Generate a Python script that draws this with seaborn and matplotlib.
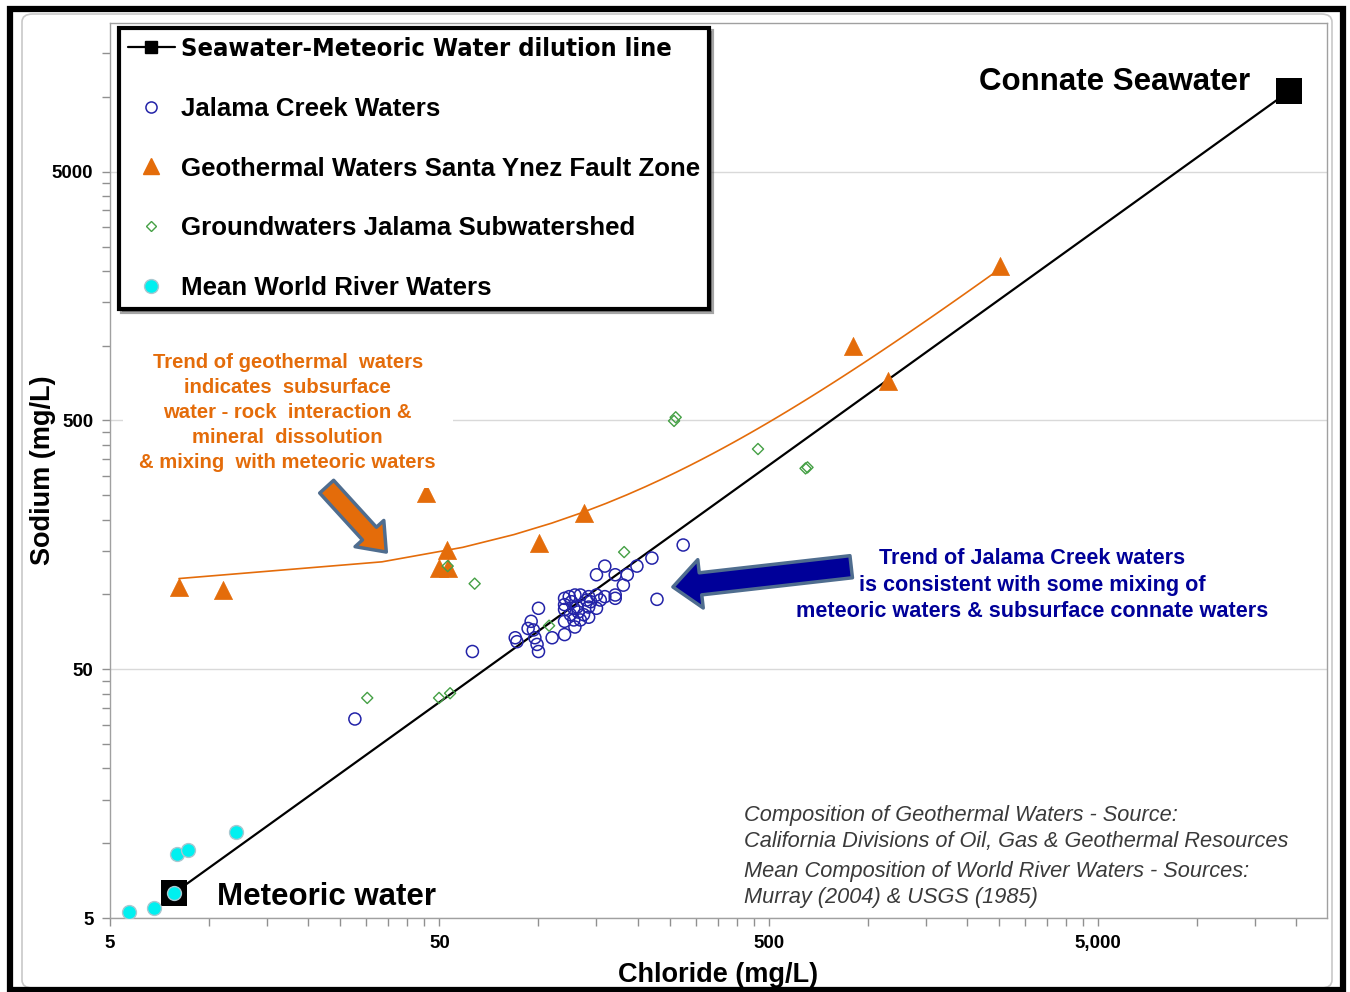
import numpy as np
import matplotlib.pyplot as plt
import seaborn as sns
from matplotlib import font_manager
from matplotlib.lines import Line2D
from matplotlib.patches import Rectangle, FancyBboxPatch
from matplotlib.ticker import FixedLocator, FixedFormatter, LogLocator, NullFormatter

# end members of the dilution line (meteoric water, connate seawater)
dil_cl = [7.8, 19000]
dil_na = [6.3, 10500]

# Jalama Creek waters
creek_cl = [275, 221, 199, 159, 150, 171, 186, 181, 171, 159,
            150, 154, 142, 140, 134, 129, 120, 120, 120, 126,
            131, 132, 137, 142, 142, 150, 134, 128, 129, 120,
            120, 110, 100, 95, 93, 96.5, 97.5, 99, 100, 85,
            86, 229, 171, 63, 27.7, 124, 125, 144, 128]
creek_na = [158, 140, 130, 130, 120, 120, 120, 109, 99.5, 98,
            99.5, 95, 98, 95, 99.5, 99.5, 96.5, 91, 87, 93.5,
            89, 85, 83, 89, 81, 88, 79, 79, 74, 78,
            69, 67, 88, 78, 73, 72, 67, 63, 59, 67,
            64.6, 95.6, 96.5, 59, 31.6, 98, 83, 93.5, 88]

# geothermal waters, Santa Ynez fault zone
geo_cl = [8.1, 11.0, 45.7, 52.7, 49.8, 53.3, 100.6, 137, 902, 1152, 2521]
geo_na = [107, 104, 256, 151, 128, 128, 161, 212, 996, 720, 2088]

# groundwaters, Jalama subwatershed
gw_cl = [30.2, 49.9, 53.9, 53.0, 64.0, 107.7, 182, 258, 261, 464, 647, 656]
gw_na = [38.4, 38.4, 40.1, 130, 110.5, 74.9, 148, 498, 515, 384, 321, 324]

# mean world river waters
river_cl = [5.7, 6.8, 7.8, 8.0, 8.6, 12.1]
river_na = [5.3, 5.5, 6.3, 9.1, 9.4, 11.1]

x_ticks = [5, 50, 500, 5000]
x_labels = ["5", "50", "500", "5,000"]
y_ticks = [5, 50, 500, 5000]
y_labels = ["5", "50", "500", "5000"]

blue = "#2323A8"
orange = "#E46C0A"
green = "#45A045"
cyan = "#00F0F0"
navy = "#000099"

sns.set_style("white")
plt.rcParams['font.family'] = ['Liberation Sans', 'DejaVu Sans']
plt.rcParams['text.color'] = 'black'
plt.rcParams['axes.labelcolor'] = 'black'
plt.rcParams['xtick.labelcolor'] = 'black'
plt.rcParams['ytick.labelcolor'] = 'black'

# a condensed face for the first legend entry, if one is installed
condensed = None
for f in font_manager.fontManager.ttflist:
    if 'Narrow' in f.name or 'Condensed' in f.name or f.stretch in ('condensed', 'semi-condensed'):
        if f.weight in ('bold', 700) or f.weight == 700:
            condensed = f.fname
            break

fig, ax = plt.subplots(figsize=(13.5, 9.92), dpi=100)
fig.subplots_adjust(left=0.0815, right=0.983, top=0.977, bottom=0.0743)
ax.set_xscale('log')
ax.set_yscale('log')

# dilution line + end members
sns.lineplot(x=dil_cl, y=dil_na, ax=ax, color='black', lw=1.6, zorder=3, legend=False)
sns.scatterplot(x=dil_cl, y=dil_na, ax=ax, marker='s', s=370, color='black',
                edgecolor='black', linewidth=0, zorder=3, legend=False)

# geothermal trend line
sns.regplot(x=np.array(geo_cl), y=np.array(geo_na), ax=ax, scatter=False, ci=None,
            truncate=True, color=orange, line_kws=dict(lw=1.2, zorder=2))

sns.scatterplot(x=creek_cl, y=creek_na, ax=ax, marker='o', s=75, facecolors='none',
                edgecolor=blue, linewidth=1.1, zorder=4, legend=False)
sns.scatterplot(x=geo_cl, y=geo_na, ax=ax, marker='^', s=170, color=orange,
                edgecolor=orange, linewidth=0.5, zorder=5, legend=False)
sns.scatterplot(x=gw_cl, y=gw_na, ax=ax, marker='D', s=32, facecolors='none',
                edgecolor=green, linewidth=1.0, zorder=5, legend=False)
sns.scatterplot(x=river_cl, y=river_na, ax=ax, marker='o', s=100, color=cyan,
                edgecolor='#A8C8D0', linewidth=1.0, zorder=6, legend=False)

ax.set_xlim(5, 24800)
ax.set_ylim(5, 19800)

# ticks like the Excel log axes: majors at 5x10^n, minors every 5 units in a decade
ax.xaxis.set_major_locator(FixedLocator(x_ticks))
ax.xaxis.set_major_formatter(FixedFormatter(x_labels))
ax.yaxis.set_major_locator(FixedLocator(y_ticks))
ax.yaxis.set_major_formatter(FixedFormatter(y_labels))
ax.xaxis.set_minor_locator(LogLocator(base=10, subs=np.arange(1, 5, 0.5), numticks=50))
ax.yaxis.set_minor_locator(LogLocator(base=10, subs=np.arange(1, 5, 0.5), numticks=50))
ax.xaxis.set_minor_formatter(NullFormatter())
ax.yaxis.set_minor_formatter(NullFormatter())
ax.tick_params(which='both', direction='out', length=6, width=1, color='#909090',
               bottom=True, left=True, top=False, right=False)
ax.tick_params(which='major', labelsize=13.5, pad=6)
for lab in ax.get_xticklabels() + ax.get_yticklabels():
    lab.set_fontweight('bold')

ax.yaxis.grid(True, which='major', color='#D9D9D9', lw=1)
ax.xaxis.grid(False)
ax.set_axisbelow(True)
for sp in ax.spines.values():
    sp.set_color('#A0A0A0')
    sp.set_linewidth(1)

ax.set_xlabel('Chloride (mg/L)', fontsize=19.5, fontweight='bold', labelpad=7.5)
ax.set_ylabel('Sodium (mg/L)', fontsize=19.5, fontweight='bold', labelpad=-3)

# legend
handles = [
    Line2D([], [], color='black', lw=1.6, marker='s', markersize=9),
    Line2D([], [], ls='none', marker='o', mfc='none', mec=blue, mew=1.1, markersize=8),
    Line2D([], [], ls='none', marker='^', color=orange, markersize=11),
    Line2D([], [], ls='none', marker='D', mfc='none', mec=green, mew=1.0, markersize=5.5),
    Line2D([], [], ls='none', marker='o', color=cyan, mec='#A8C8D0', markersize=10),
]
labels = ['Seawater-Meteoric Water dilution line', 'Jalama Creek Waters',
          'Geothermal Waters Santa Ynez Fault Zone', 'Groundwaters Jalama Subwatershed',
          'Mean World River Waters']
leg = ax.legend(handles, labels, loc='upper left', bbox_to_anchor=(0.0074, 0.994),
                borderaxespad=0, prop={'weight': 'bold', 'size': 18.6},
                handlelength=1.8, handletextpad=0.25, borderpad=0.35,
                labelspacing=1.38, frameon=True, fancybox=False, shadow=True,
                framealpha=1)
leg.get_frame().set_edgecolor('black')
leg.get_frame().set_linewidth(3)
first = leg.get_texts()[0]
if condensed is not None:
    first.set_fontproperties(font_manager.FontProperties(fname=condensed, size=18.3))
else:
    first.set_fontsize(17)
leg.set_zorder(10)

# annotations
ax.text(0.937, 0.934, 'Connate Seawater', transform=ax.transAxes, ha='right',
        va='center', fontsize=22.5, fontweight='bold')
ax.text(0.088, 0.024, 'Meteoric water', transform=ax.transAxes, ha='left',
        va='center', fontsize=22.5, fontweight='bold')

ax.text(0.146, 0.565, 'Trend of geothermal  waters\nindicates  subsurface\n'
        'water - rock  interaction &\nmineral  dissolution\n& mixing  with meteoric waters',
        transform=ax.transAxes, ha='center', va='center', fontsize=14.6,
        fontweight='bold', color=orange, linespacing=1.39, zorder=6,
        bbox=dict(fc='white', ec='none', pad=12))

ax.text(0.7576, 0.372, 'Trend of Jalama Creek waters\nis consistent with some mixing of\n'
        'meteoric waters & subsurface connate waters',
        transform=ax.transAxes, ha='center', va='center', fontsize=15.6,
        fontweight='bold', color=navy, linespacing=1.35, zorder=6)

ax.text(0.521, 0.1000, 'Composition of Geothermal Waters - Source:\n'
        'California Divisions of Oil, Gas & Geothermal Resources',
        transform=ax.transAxes, ha='left', va='center', fontsize=15.7,
        style='italic', color='#3A3A3A', linespacing=1.34)
ax.text(0.521, 0.038, 'Mean Composition of World River Waters - Sources:\n'
        'Murray (2004) & USGS (1985)',
        transform=ax.transAxes, ha='left', va='center', fontsize=15.7,
        style='italic', color='#3A3A3A', linespacing=1.34)

# block arrows
ax.annotate('', xy=(0.227, 0.409), xytext=(0.178, 0.482), xycoords='axes fraction',
            arrowprops=dict(arrowstyle='simple,head_length=0.9,head_width=1.4,tail_width=0.68',
                            fc=orange, ec='#4F6D8F', lw=2.5, mutation_scale=20,
                            shrinkA=0, shrinkB=0), zorder=7)
ax.annotate('', xy=(0.4625, 0.370), xytext=(0.609, 0.3926), xycoords='axes fraction',
            arrowprops=dict(arrowstyle='simple,head_length=1.0,head_width=1.75,tail_width=0.8',
                            fc=navy, ec='#4F6D8F', lw=2.5, mutation_scale=20,
                            shrinkA=0, shrinkB=0), zorder=7)

# screenshot frame
W, H = 1350, 992
fig.add_artist(FancyBboxPatch((22 / W, 4 / H), (1332 - 22) / W, (978 - 4) / H,
                              boxstyle='round,pad=0,rounding_size=0.008',
                              transform=fig.transFigure, fill=False,
                              ec='#C8C8C8', lw=1.2))
fig.add_artist(Rectangle((10 / W, 2 / H), (1343 - 10) / W, (983.5 - 2) / H,
                         transform=fig.transFigure, fill=False, ec='black', lw=4.5))

fig.savefig('out.png', dpi=100)
